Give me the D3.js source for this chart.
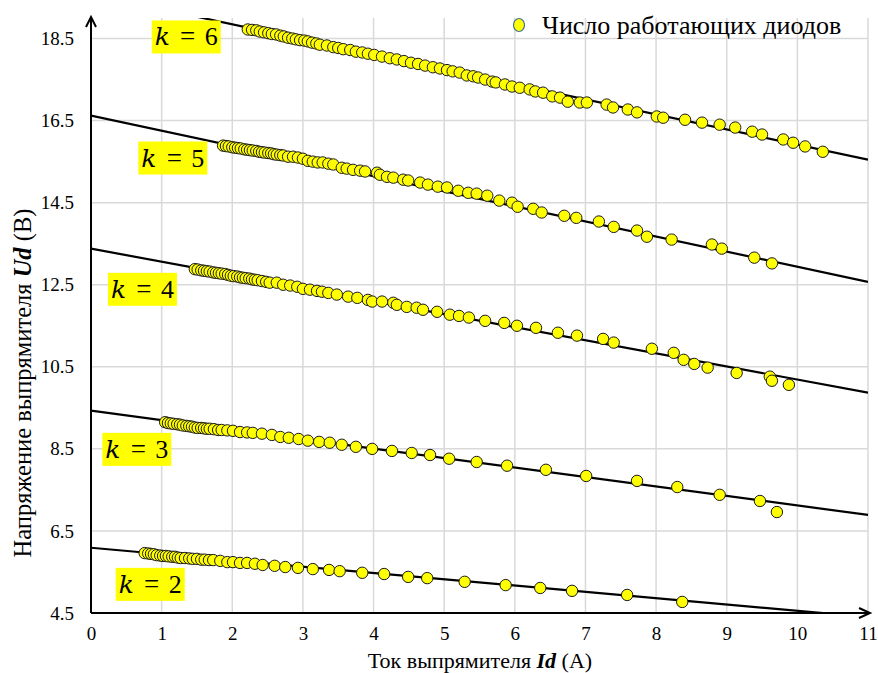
<!DOCTYPE html>
<html>
<head>
<meta charset="utf-8">
<script src="https://cdn.jsdelivr.net/npm/d3@7"></script>
<style>
  html, body { margin: 0; padding: 0; background: #fff; }
  svg { display: block; }
  svg text { font-family: "Liberation Serif", "Tinos", "Times New Roman", serif; fill: #000; }
  svg text.kvar { font-family: "DejaVu Serif", "Liberation Serif", serif; font-style: italic; }
</style>
</head>
<body>
<svg id="chart" width="878" height="673"></svg>
<script>
// Measured rectifier output: current Id (A) vs voltage Ud (V), per number of working diodes k
const k2 = [[0.76,5.96],[0.81,5.95],[0.85,5.94],[0.89,5.93],[0.93,5.91],[0.98,5.90],[1.02,5.89],[1.06,5.89],[1.10,5.88],[1.15,5.87],[1.19,5.87],[1.23,5.85],[1.27,5.84],[1.33,5.84],[1.39,5.83],[1.44,5.82],[1.50,5.82],[1.56,5.80],[1.61,5.80],[1.67,5.79],[1.73,5.79],[1.83,5.77],[1.93,5.74],[2.01,5.74],[2.11,5.72],[2.21,5.72],[2.32,5.70],[2.43,5.67],[2.60,5.65],[2.75,5.62],[2.93,5.60],[3.14,5.57],[3.37,5.55],[3.52,5.52],[3.84,5.48],[4.15,5.45],[4.49,5.38],[4.76,5.35],[5.29,5.26],[5.87,5.18],[6.36,5.11],[6.81,5.04],[7.59,4.94],[8.37,4.77]];
const k3 = [[1.05,9.15],[1.09,9.13],[1.13,9.12],[1.17,9.11],[1.22,9.10],[1.26,9.09],[1.30,9.07],[1.35,9.06],[1.39,9.05],[1.43,9.04],[1.47,9.02],[1.51,9.01],[1.56,9.01],[1.60,9.00],[1.64,8.99],[1.68,8.99],[1.74,8.98],[1.80,8.96],[1.85,8.96],[1.93,8.95],[2.01,8.94],[2.11,8.91],[2.21,8.90],[2.29,8.89],[2.42,8.87],[2.56,8.84],[2.68,8.79],[2.80,8.77],[2.94,8.74],[3.07,8.70],[3.23,8.67],[3.38,8.65],[3.55,8.60],[3.75,8.55],[3.98,8.50],[4.26,8.45],[4.54,8.40],[4.80,8.35],[5.07,8.26],[5.46,8.18],[5.89,8.09],[6.44,7.99],[7.01,7.84],[7.73,7.72],[8.30,7.57],[8.90,7.38],[9.47,7.23],[9.71,6.96]];
const k4 = [[1.47,12.88],[1.51,12.87],[1.56,12.85],[1.60,12.84],[1.64,12.83],[1.68,12.82],[1.73,12.80],[1.77,12.79],[1.81,12.78],[1.85,12.77],[1.90,12.76],[1.94,12.74],[1.98,12.72],[2.02,12.71],[2.07,12.70],[2.11,12.68],[2.15,12.67],[2.19,12.66],[2.24,12.65],[2.28,12.63],[2.32,12.62],[2.36,12.61],[2.42,12.59],[2.48,12.57],[2.53,12.55],[2.63,12.55],[2.72,12.50],[2.82,12.48],[2.92,12.45],[3.00,12.40],[3.10,12.38],[3.20,12.35],[3.27,12.33],[3.36,12.30],[3.48,12.26],[3.64,12.21],[3.77,12.18],[3.92,12.13],[3.98,12.09],[4.12,12.09],[4.28,12.06],[4.33,12.01],[4.47,11.96],[4.61,11.94],[4.70,11.89],[4.90,11.84],[5.08,11.77],[5.21,11.74],[5.35,11.70],[5.58,11.62],[5.85,11.57],[6.03,11.50],[6.30,11.45],[6.61,11.33],[6.88,11.26],[7.25,11.18],[7.40,11.09],[7.94,10.94],[8.25,10.84],[8.39,10.67],[8.54,10.57],[8.73,10.48],[9.14,10.35],[9.61,10.26],[9.64,10.16],[9.88,10.06]];
const k5 = [[1.87,15.89],[1.91,15.88],[1.95,15.87],[2.00,15.85],[2.04,15.84],[2.08,15.83],[2.12,15.82],[2.17,15.80],[2.21,15.79],[2.25,15.78],[2.29,15.77],[2.34,15.76],[2.38,15.74],[2.42,15.73],[2.46,15.72],[2.51,15.71],[2.55,15.70],[2.59,15.68],[2.63,15.67],[2.68,15.66],[2.72,15.65],[2.79,15.62],[2.86,15.62],[2.93,15.60],[3.00,15.57],[3.07,15.52],[3.14,15.50],[3.21,15.48],[3.28,15.48],[3.36,15.45],[3.43,15.43],[3.55,15.35],[3.62,15.33],[3.71,15.30],[3.81,15.28],[3.88,15.26],[4.05,15.23],[4.09,15.18],[4.19,15.13],[4.28,15.11],[4.42,15.06],[4.49,15.04],[4.66,14.99],[4.77,14.94],[4.91,14.89],[5.04,14.87],[5.20,14.79],[5.34,14.74],[5.46,14.72],[5.61,14.67],[5.78,14.55],[5.96,14.50],[6.04,14.40],[6.26,14.35],[6.38,14.26],[6.70,14.18],[6.87,14.13],[7.19,14.04],[7.40,13.91],[7.73,13.82],[7.87,13.67],[8.22,13.60],[8.79,13.48],[8.93,13.38],[9.39,13.16],[9.64,13.02]];
const k6 = [[2.22,18.72],[2.28,18.71],[2.34,18.70],[2.39,18.67],[2.45,18.65],[2.51,18.63],[2.56,18.61],[2.62,18.60],[2.68,18.57],[2.73,18.55],[2.79,18.52],[2.85,18.50],[2.90,18.48],[2.96,18.46],[3.02,18.45],[3.07,18.43],[3.13,18.40],[3.19,18.38],[3.24,18.35],[3.34,18.33],[3.43,18.29],[3.50,18.27],[3.57,18.24],[3.67,18.22],[3.75,18.18],[3.84,18.16],[3.92,18.13],[4.01,18.10],[4.12,18.06],[4.23,18.02],[4.33,17.99],[4.43,17.95],[4.53,17.91],[4.63,17.88],[4.73,17.84],[4.84,17.80],[4.94,17.77],[5.04,17.73],[5.12,17.70],[5.22,17.67],[5.32,17.60],[5.41,17.58],[5.48,17.55],[5.58,17.50],[5.68,17.45],[5.73,17.43],[5.86,17.38],[5.96,17.33],[6.07,17.30],[6.21,17.26],[6.29,17.21],[6.40,17.18],[6.53,17.09],[6.64,17.06],[6.75,16.96],[6.92,16.94],[7.02,16.94],[7.30,16.89],[7.39,16.82],[7.60,16.77],[7.73,16.70],[8.01,16.60],[8.10,16.57],[8.41,16.52],[8.65,16.45],[8.90,16.40],[9.12,16.33],[9.36,16.23],[9.50,16.16],[9.80,16.04],[9.94,15.96],[10.11,15.87],[10.36,15.74]];

// Linear trend lines, given as their values at Id = 0 and Id = 11
const trendK2 = [[0, 6.09], [11, 4.40]];
const trendK3 = [[0, 9.43], [11, 6.89]];
const trendK4 = [[0, 13.38], [11, 9.87]];
const trendK5 = [[0, 16.62], [11, 12.57]];
const trendK6 = [[0, 19.58], [11, 15.55]];

const kValues = [2, 3, 4, 5, 6];
const xTicks = [0, 1, 2, 3, 4, 5, 6, 7, 8, 9, 10, 11];
const yTicks = [4.5, 6.5, 8.5, 10.5, 12.5, 14.5, 16.5, 18.5];
const legendLabel = "Число работающих диодов";
const xTitle = ["Ток выпрямителя ", "Id", " (А)"];
const yTitle = ["Напряжение выпрямителя ", "Ud", " (В)"];

const seriesList = [k2, k3, k4, k5, k6];
const trendList = [trendK2, trendK3, trendK4, trendK5, trendK6];

const svg = d3.select("#chart");
const x = d3.scaleLinear().domain([0, 11]).range([91, 868]);
const y = d3.scaleLinear().domain([4.5, 19]).range([613, 18]);

// clip for the trend lines
svg.append("defs").append("clipPath").attr("id", "plotClip")
  .append("rect")
  .attr("x", x(0)).attr("y", y(19))
  .attr("width", x(11) - x(0)).attr("height", y(4.5) - y(19));

// grid
const grid = svg.append("g").attr("stroke", "#d9d9d9").attr("stroke-width", 1.5);
grid.selectAll("line.v").data(xTicks.slice(1)).join("line")
  .attr("x1", d => x(d)).attr("x2", d => x(d))
  .attr("y1", y(19)).attr("y2", y(4.5));
grid.selectAll("line.h").data(yTicks.slice(1)).join("line")
  .attr("x1", x(0)).attr("x2", x(11))
  .attr("y1", d => y(d)).attr("y2", d => y(d));

// axes with arrow heads
const axisG = svg.append("g").attr("stroke", "#000").attr("fill", "none")
  .attr("stroke-width", 2);
axisG.append("line").attr("x1", x(0)).attr("x2", x(0)).attr("y1", y(4.5)).attr("y2", y(19) - 1);
axisG.append("line").attr("x1", x(0)).attr("x2", x(11) + 1).attr("y1", y(4.5)).attr("y2", y(4.5));
axisG.append("path")
  .attr("d", `M${x(0) - 5},${y(19) + 9} L${x(0)},${y(19) - 1} L${x(0) + 5},${y(19) + 9}`);
axisG.append("path")
  .attr("d", `M${x(11) - 9},${y(4.5) - 5} L${x(11) + 2},${y(4.5)} L${x(11) - 9},${y(4.5) + 5}`);

// tick labels via d3 axes
const xAxis = d3.axisBottom(x).tickValues(xTicks).tickSize(0).tickPadding(14)
  .tickFormat(d3.format("d"));
const gx = svg.append("g").attr("transform", `translate(0,${y(4.5)})`).call(xAxis);
gx.attr("font-family", null);
gx.select(".domain").remove();
gx.selectAll("text").attr("font-size", 19);

const yAxis = d3.axisLeft(y).tickValues(yTicks).tickSize(0).tickPadding(17)
  .tickFormat(d3.format(".1f"));
const gy = svg.append("g").attr("transform", `translate(${x(0)},0)`).call(yAxis);
gy.attr("font-family", null);
gy.select(".domain").remove();
gy.selectAll("text").attr("font-size", 19);

// trend lines
const line = d3.line().x(d => x(d[0])).y(d => y(d[1]));
svg.append("g").attr("clip-path", "url(#plotClip)")
  .selectAll("path").data(trendList).join("path")
  .attr("d", line).attr("fill", "none").attr("stroke", "#000").attr("stroke-width", 2.2);

// measured points
seriesList.forEach(series => {
  svg.append("g").selectAll("circle").data(series).join("circle")
    .attr("cx", d => x(d[0])).attr("cy", d => y(d[1])).attr("r", 5.7)
    .attr("fill", "#ffff00").attr("stroke", "#1a1a1a").attr("stroke-width", 1);
});

// k labels on yellow boxes; top-left corner of each box in data units
const kLabelPos = { 2: [0.35, 5.60], 3: [0.16, 8.89], 4: [0.24, 12.79], 5: [0.67, 15.99], 6: [0.86, 18.94] };
kValues.forEach(k => {
  const [lx, ly] = kLabelPos[k];
  const bx = x(lx), by = y(ly);
  const g = svg.append("g").attr("transform", `translate(${bx},${by})`);
  g.append("rect").attr("width", 69).attr("height", 33).attr("fill", "#ffff00");
  g.append("text").attr("class", "kvar").attr("x", 3).attr("y", 25)
    .attr("font-size", 25).text("k");
  g.append("text").attr("x", 36).attr("y", 25).attr("text-anchor", "middle")
    .attr("font-size", 27).text("=");
  g.append("text").attr("x", 53).attr("y", 25)
    .attr("font-size", 26).text(k);
});

// legend
svg.append("ellipse").attr("cx", 519).attr("cy", 25).attr("rx", 5.5).attr("ry", 6.5)
  .attr("fill", "#ffff00").attr("stroke", "#41719c").attr("stroke-width", 1.2);
svg.append("text").attr("x", 542).attr("y", 34).attr("font-size", 26).text(legendLabel);

// axis titles
const xt = svg.append("text").attr("x", 480).attr("y", 668).attr("text-anchor", "middle")
  .attr("font-size", 22);
xt.append("tspan").text(xTitle[0]);
xt.append("tspan").attr("font-weight", "bold").attr("font-style", "italic").text(xTitle[1]);
xt.append("tspan").text(xTitle[2]);

const yt = svg.append("text").attr("transform", "translate(31,383) rotate(-90)")
  .attr("text-anchor", "middle").attr("font-size", 24.5);
yt.append("tspan").text(yTitle[0]);
yt.append("tspan").attr("font-weight", "bold").attr("font-style", "italic").text(yTitle[1]);
yt.append("tspan").text(yTitle[2]);
</script>
</body>
</html>
